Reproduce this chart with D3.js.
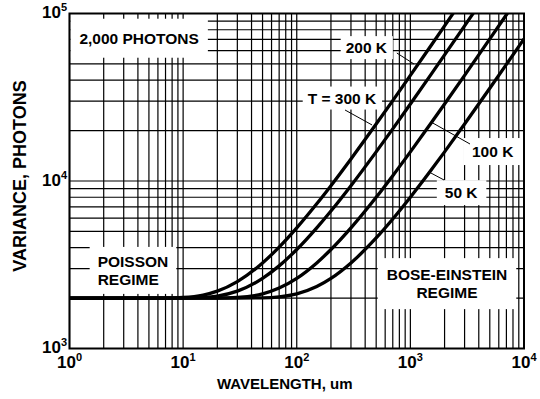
<!DOCTYPE html>
<html>
<head>
<meta charset="utf-8">
<script src="https://cdn.jsdelivr.net/npm/d3@7"></script>
<style>
  body { margin: 0; background: #fff; }
  svg text { font-family: "Liberation Sans", Arial, sans-serif; font-weight: bold; fill: #000; }
</style>
</head>
<body>
<svg id="chart" width="540" height="399"></svg>
<script>
// curves: [wavelength um, variance photons]
var t300 = [[1,2000],[7,2002],[10,2017],[15,2085],[20,2200],[30,2507],[50,3242],[70,4032],[100,5252],[150,7310],
  [200,9380],[300,13540],[500,21870],[700,30200],[1000,42700],[1500,63560],[2000,84400],[2500,105300]];
var t200 = [[1,2000],[10,2001],[15,2017],[20,2056],[30,2200],[50,2622],[70,3114],[100,3899],[150,5252],[200,6620],
  [300,9380],[500,14925],[700,20478],[1000,28810],[1500,42700],[2000,56600],[3000,84400],[4000,112200]];
var t100 = [[1,2000],[20,2001],[30,2017],[50,2119],[70,2294],[100,2622],[150,3242],[200,3899],[300,5252],[500,7998],
  [700,10764],[1000,14925],[1500,21870],[2000,28810],[3000,42700],[5000,70500],[7000,98300],[7500,105300]];
var t50 = [[1,2000],[30,2000],[50,2006],[70,2033],[100,2119],[150,2344],[200,2622],[300,3242],[500,4570],[700,5933],
  [1000,7998],[1500,11457],[2000,14925],[3000,21870],[5000,35760],[7000,49660],[10000,70500]];

var xDecades = [1, 10, 100, 1000, 10000];
var yDecades = [1000, 10000, 100000];

// annotation texts, anchored in data units [wavelength, variance]
var labels = [
  {lines: ["2,000 PHOTONS"], at: [4.1, 66000], pad: [9, 11]},
  {lines: ["200 K"], at: [410, 58000], pad: [5, 3]},
  {lines: ["T = 300 K"], at: [250, 29000], pad: [5, 3]},
  {lines: ["100 K"], at: [5300, 13900], pad: [8, 5]},
  {lines: ["50 K"], at: [2800, 7900], pad: [8, 4]},
  {lines: ["POISSON", "REGIME"], at: [3.62, 3070], pad: [8, 6], align: "start"},
  {lines: ["BOSE-EINSTEIN", "REGIME"], at: [2100, 2560], pad: [9, 8]}
];
var leaders = [
  [[760, 58100], [1076, 49950]],
  [[266, 26540], [460, 21600]],
  [[1519, 22500], [3348, 16630]],
  [[1458, 11320], [1977, 10140]]
];

var svg = d3.select("#chart");
var margin = {left: 69.5, top: 13.5, right: 16, bottom: 50.5};
var width = 540 - margin.left - margin.right;
var height = 399 - margin.top - margin.bottom;

var x = d3.scaleLog().domain([1, 10000]).range([0, width]);
var y = d3.scaleLog().domain([1000, 100000]).range([height, 0]);

var g = svg.append("g").attr("transform", "translate(" + margin.left + "," + margin.top + ")");

svg.append("defs").append("clipPath").attr("id", "plot")
  .append("rect").attr("width", width).attr("height", height);

  // grid, every 1..9 of each decade
g.append("g").selectAll("line").data(x.ticks())
  .join("line")
  .attr("x1", d => x(d)).attr("x2", d => x(d))
  .attr("y1", 0).attr("y2", height)
  .attr("stroke", "#000").attr("stroke-width", 1.2);
g.append("g").selectAll("line").data(y.ticks())
  .join("line")
  .attr("y1", d => y(d)).attr("y2", d => y(d))
  .attr("x1", 0).attr("x2", width)
  .attr("stroke", "#000").attr("stroke-width", 1.2);

  // boxed labels
labels.forEach(function(l) {
  var lg = g.append("g");
  var t = lg.append("text")
    .attr("x", x(l.at[0])).attr("y", y(l.at[1]))
    .attr("text-anchor", "middle")
    .style("font-size", "15.5px");
  l.lines.forEach(function(s, i) {
    t.append("tspan").attr("x", x(l.at[0])).attr("dy", i ? 18 : 0).text(s);
  });
  if (l.align === "start") {
    // left aligned block
    var w = t.node().getBBox().width;
    t.attr("text-anchor", "start");
    t.selectAll("tspan").attr("x", x(l.at[0]) - w / 2);
  }
  var b = t.node().getBBox();
  lg.insert("rect", "text")
    .attr("x", b.x - l.pad[0]).attr("y", b.y - l.pad[1])
    .attr("width", b.width + 2 * l.pad[0]).attr("height", b.height + 2 * l.pad[1])
    .attr("fill", "#fff");
});

g.append("g").selectAll("line").data(leaders)
  .join("line")
  .attr("x1", d => x(d[0][0])).attr("y1", d => y(d[0][1]))
  .attr("x2", d => x(d[1][0])).attr("y2", d => y(d[1][1]))
  .attr("stroke", "#000").attr("stroke-width", 1);

var line = d3.line()
  .x(d => x(d[0])).y(d => y(d[1]))
  .curve(d3.curveMonotoneX);

g.append("g").attr("clip-path", "url(#plot)")
  .selectAll("path").data([t300, t200, t100, t50])
  .join("path")
  .attr("d", line)
  .attr("fill", "none").attr("stroke", "#000").attr("stroke-width", 3.3);

g.append("rect")
  .attr("width", width).attr("height", height)
  .attr("fill", "none").attr("stroke", "#000").attr("stroke-width", 2);

  // tick labels 10^n
var xl = g.append("g").selectAll("text").data(xDecades)
  .join("text")
  .attr("x", d => x(d)).attr("y", height + 19)
  .attr("text-anchor", "middle")
  .style("font-size", "17px");
xl.append("tspan").text("10");
xl.append("tspan").attr("dy", -7).style("font-size", "11px").text(d => Math.round(Math.log10(d)));

var yl = g.append("g").selectAll("text").data(yDecades)
  .join("text")
  .attr("x", -2.5).attr("y", d => y(d) + 4.5)
  .attr("text-anchor", "end")
  .style("font-size", "17px");
yl.append("tspan").text("10");
yl.append("tspan").attr("dy", -7).style("font-size", "11px").text(d => Math.round(Math.log10(d)));

g.append("text")
  .attr("x", width / 2 - 12).attr("y", height + 40)
  .attr("text-anchor", "middle")
  .style("font-size", "15px")
  .text("WAVELENGTH, um");

g.append("text")
  .attr("transform", "translate(" + (-44) + "," + (height / 2 - 5) + ") rotate(-90)")
  .attr("text-anchor", "middle")
  .style("font-size", "18px")
  .text("VARIANCE, PHOTONS");
</script>
</body>
</html>
